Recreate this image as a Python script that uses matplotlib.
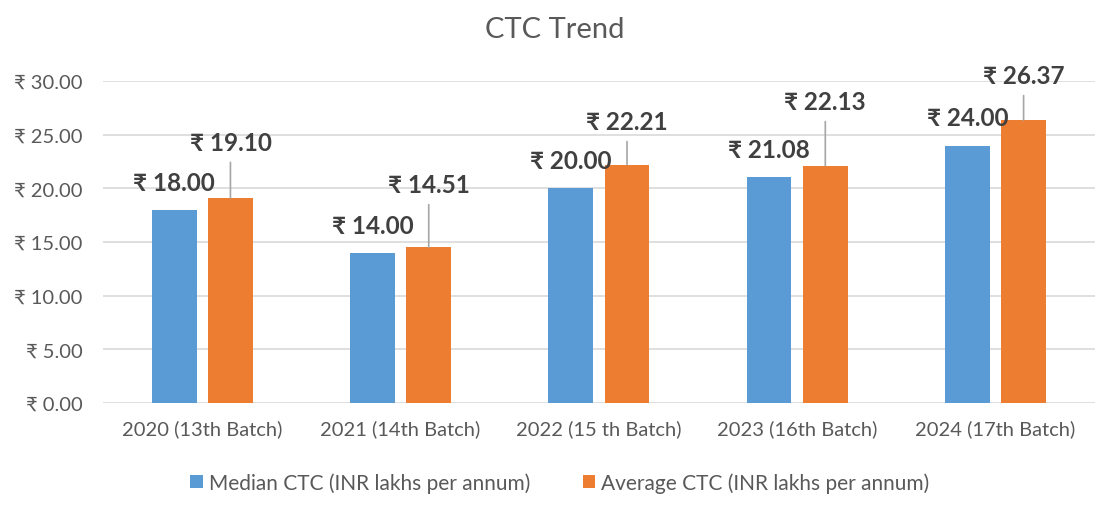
import matplotlib
matplotlib.use("Agg")
import matplotlib.pyplot as plt
import numpy as np

plt.rcParams['font.family'] = ['Lato', 'DejaVu Sans']

# --- datos ---
categories = ["2020 (13th Batch)", "2021 (14th Batch)", "2022 (15 th Batch)",
              "2023 (16th Batch)", "2024 (17th Batch)"]
median_ctc = [18.00, 14.00, 20.00, 21.08, 24.00]
average_ctc = [19.10, 14.51, 22.21, 22.13, 26.37]
series_names = ["Median CTC (INR lakhs per annum)", "Average CTC (INR lakhs per annum)"]
y_ticks = [0, 5, 10, 15, 20, 25, 30]

# desplazamiento vertical (pt) del centro de las etiquetas del promedio
avg_label_offset = [40, 45, 31, 46, 32]

blue = "#5B9BD5"
orange = "#ED7D31"
text_col = "#404040"
tick_col = "#595959"

fig = plt.figure(figsize=(11.09, 5.06), dpi=100)
ax = fig.add_axes([0.093, 0.2016, 0.894, 0.636])

x = np.arange(len(categories))
w = 0.226
off = 0.142
b1 = ax.bar(x - off, median_ctc, w, color=blue, label=series_names[0], zorder=3)
b2 = ax.bar(x + off, average_ctc, w, color=orange, label=series_names[1], zorder=3)

ax.set_xlim(-0.5, len(categories) - 0.5)
ax.set_ylim(0, 30)
ax.set_yticks(y_ticks)
ax.set_yticklabels([f"₹ {v:.2f}" for v in y_ticks], fontsize=14.5, color=tick_col)
ax.set_xticks(x)
ax.set_xticklabels(categories, fontsize=14.5, color=tick_col)
ax.tick_params(axis='both', length=0)
ax.tick_params(axis='x', pad=12)
ax.tick_params(axis='y', pad=15)
ax.grid(axis='y', color='#d9d9d9', lw=1.2, zorder=0)
for s in ax.spines.values():
    s.set_visible(False)

# etiquetas de la mediana
for xi, v in zip(x, median_ctc):
    ax.annotate(f"₹ {v:.2f}", (xi - off, v), xytext=(0, 20), textcoords='offset points',
                ha='center', va='center', fontsize=17.5, weight='bold', color=text_col)

# etiquetas del promedio con línea guía
for xi, v, dy in zip(x, average_ctc, avg_label_offset):
    ax.annotate(f"₹ {v:.2f}", (xi + off, v), xytext=(0, dy), textcoords='offset points',
                ha='center', va='center', fontsize=17.5, weight='bold', color=text_col,
                arrowprops=dict(arrowstyle='-', color='#a6a6a6', lw=1.2,
                                shrinkA=4, shrinkB=0))

fig.text(0.5, 0.94, "CTC Trend", ha='center', va='center', fontsize=21, color=tick_col)

fig.legend(handles=[b1, b2], loc='center', bbox_to_anchor=(0.505, 0.045), ncol=2,
           frameon=False, fontsize=15, handlelength=0.6, handleheight=0.6,
           columnspacing=2.5, handletextpad=0.3, labelcolor=tick_col)

fig.savefig("out.png", dpi=100)
